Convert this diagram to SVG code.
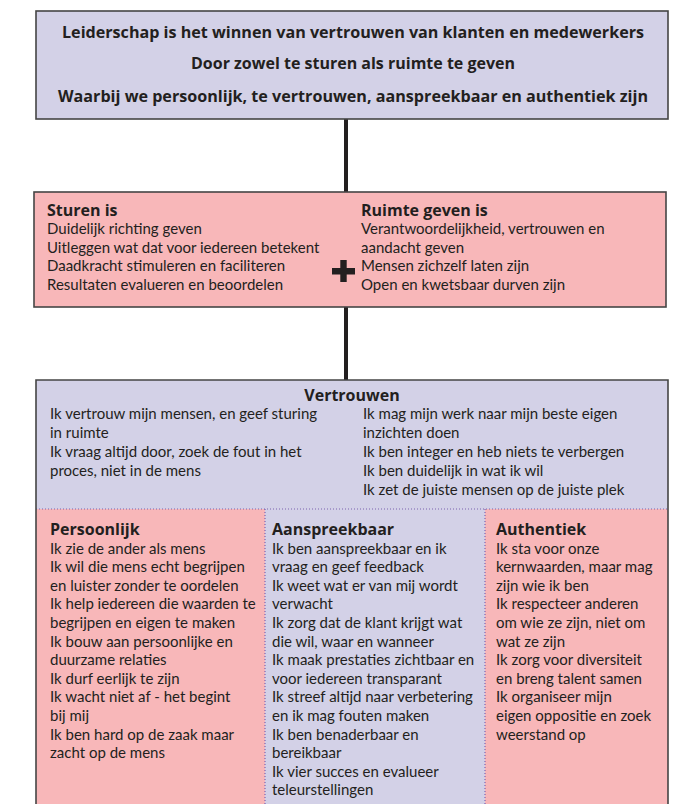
<svg xmlns="http://www.w3.org/2000/svg" width="678" height="804" viewBox="0 0 678 804">
<style>
text{font-family:Lato,"Open Sans",sans-serif;fill:#231f20}
.h{font-family:"Open Sans",Lato,sans-serif;font-weight:bold;font-size:16px;text-anchor:middle}
.b{font-size:15px}
.bh{font-family:"Open Sans",Lato,sans-serif;font-size:16px;font-weight:bold}
.lav{fill:#d3d1e7}
.pink{fill:#f8b7b9}
.bd{stroke:#454545;stroke-width:1.6;fill:none}
.dot{stroke:#7d62b0;stroke-width:1.2;stroke-dasharray:1 2;fill:none}
.conn{stroke:#231f20;stroke-width:4}
</style>
<g id="connectors">
<line class="conn" x1="346" y1="119" x2="346" y2="193"/>
<line class="conn" x1="346" y1="307" x2="346" y2="381"/>
</g>
<g id="top">
<rect class="lav" x="36" y="11" width="632" height="108"/>
<rect class="bd" x="36" y="11" width="632" height="108"/>
<text class="h" x="353" y="38" textLength="582" lengthAdjust="spacingAndGlyphs">Leiderschap is het winnen van vertrouwen van klanten en medewerkers</text>
<text class="h" x="353" y="69">Door zowel te sturen als ruimte te geven</text>
<text class="h" x="353" y="102" textLength="590" lengthAdjust="spacingAndGlyphs">Waarbij we persoonlijk, te vertrouwen, aanspreekbaar en authentiek zijn</text>
</g>
<g id="middle">
<rect class="pink" x="34" y="192" width="632" height="115"/>
<rect class="bd" x="34" y="192" width="632" height="115"/>
<text class="bh" x="47" y="216">Sturen is</text>
<text class="b" x="47" y="234">Duidelijk richting geven</text>
<text class="b" x="47" y="252.5">Uitleggen wat dat voor iedereen betekent</text>
<text class="b" x="47" y="271">Daadkracht stimuleren en faciliteren</text>
<text class="b" x="47" y="289.5">Resultaten evalueren en beoordelen</text>
<text class="bh" x="361" y="216">Ruimte geven is</text>
<text class="b" x="361" y="234">Verantwoordelijkheid, vertrouwen en</text>
<text class="b" x="361" y="252.5">aandacht geven</text>
<text class="b" x="361" y="271">Mensen zichzelf laten zijn</text>
<text class="b" x="361" y="289.5">Open en kwetsbaar durven zijn</text>
<path d="M332 268H355V274.5H332Z M340.3 260H346.7V282H340.3Z" fill="#231f20"/>
</g>
<g id="vertrouwen">
<rect class="lav" x="36" y="380" width="632" height="129"/>
<text class="bh" x="352" y="401" text-anchor="middle">Vertrouwen</text>
<text class="b" x="50" y="419">Ik vertrouw mijn mensen, en geef sturing</text>
<text class="b" x="50" y="438">in ruimte</text>
<text class="b" x="50" y="457">Ik vraag altijd door, zoek de fout in het</text>
<text class="b" x="50" y="476">proces, niet in de mens</text>
<text class="b" x="363" y="419">Ik mag mijn werk naar mijn beste eigen</text>
<text class="b" x="363" y="438">inzichten doen</text>
<text class="b" x="363" y="457">Ik ben integer en heb niets te verbergen</text>
<text class="b" x="363" y="476">Ik ben duidelijk in wat ik wil</text>
<text class="b" x="363" y="495">Ik zet de juiste mensen op de juiste plek</text>
</g>
<g id="persoonlijk">
<rect class="pink" x="36" y="509" width="229" height="295"/>
<text class="bh" x="50" y="535">Persoonlijk</text>
<text class="b" x="50" y="553.5">Ik zie de ander als mens</text>
<text class="b" x="50" y="572.1">Ik wil die mens echt begrijpen</text>
<text class="b" x="50" y="590.7">en luister zonder te oordelen</text>
<text class="b" x="50" y="609.3">Ik help iedereen die waarden te</text>
<text class="b" x="50" y="627.9">begrijpen en eigen te maken</text>
<text class="b" x="50" y="646.5">Ik bouw aan persoonlijke en</text>
<text class="b" x="50" y="665.1">duurzame relaties</text>
<text class="b" x="50" y="683.7">Ik durf eerlijk te zijn</text>
<text class="b" x="50" y="702.3">Ik wacht niet af - het begint</text>
<text class="b" x="50" y="720.9">bij mij</text>
<text class="b" x="50" y="739.5">Ik ben hard op de zaak maar</text>
<text class="b" x="50" y="758.1">zacht op de mens</text>
</g>
<g id="aanspreekbaar">
<rect class="lav" x="265" y="509" width="220" height="295"/>
<text class="bh" x="272" y="535">Aanspreekbaar</text>
<text class="b" x="272" y="553.5">Ik ben aanspreekbaar en ik</text>
<text class="b" x="272" y="572.1">vraag en geef feedback</text>
<text class="b" x="272" y="590.7">Ik weet wat er van mij wordt</text>
<text class="b" x="272" y="609.3">verwacht</text>
<text class="b" x="272" y="627.9">Ik zorg dat de klant krijgt wat</text>
<text class="b" x="272" y="646.5">die wil, waar en wanneer</text>
<text class="b" x="272" y="665.1">Ik maak prestaties zichtbaar en</text>
<text class="b" x="272" y="683.7">voor iedereen transparant</text>
<text class="b" x="272" y="702.3">Ik streef altijd naar verbetering</text>
<text class="b" x="272" y="720.9">en ik mag fouten maken</text>
<text class="b" x="272" y="739.5">Ik ben benaderbaar en</text>
<text class="b" x="272" y="758.1">bereikbaar</text>
<text class="b" x="272" y="776.7">Ik vier succes en evalueer</text>
<text class="b" x="272" y="795.3">teleurstellingen</text>
</g>
<g id="authentiek">
<rect class="pink" x="485" y="509" width="183" height="295"/>
<text class="bh" x="496" y="535">Authentiek</text>
<text class="b" x="496" y="553.5">Ik sta voor onze</text>
<text class="b" x="496" y="572.1">kernwaarden, maar mag</text>
<text class="b" x="496" y="590.7">zijn wie ik ben</text>
<text class="b" x="496" y="609.3">Ik respecteer anderen</text>
<text class="b" x="496" y="627.9">om wie ze zijn, niet om</text>
<text class="b" x="496" y="646.5">wat ze zijn</text>
<text class="b" x="496" y="665.1">Ik zorg voor diversiteit</text>
<text class="b" x="496" y="683.7">en breng talent samen</text>
<text class="b" x="496" y="702.3">Ik organiseer mijn</text>
<text class="b" x="496" y="720.9">eigen oppositie en zoek</text>
<text class="b" x="496" y="739.5">weerstand op</text>
</g>
<g id="frame">
<line class="dot" x1="36" y1="509" x2="668" y2="509"/>
<line class="dot" x1="265" y1="509" x2="265" y2="804"/>
<line class="dot" x1="485" y1="509" x2="485" y2="804"/>
<path class="bd" d="M36 804V380H668V804"/>
</g>
</svg>
